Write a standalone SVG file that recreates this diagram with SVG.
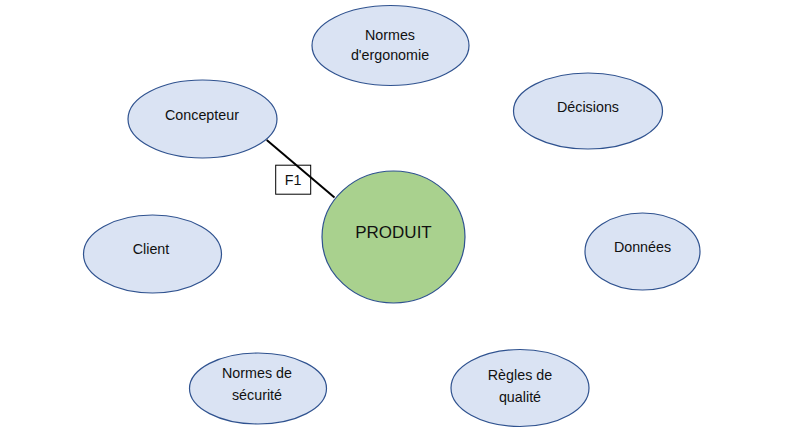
<svg xmlns="http://www.w3.org/2000/svg" width="789" height="436" viewBox="0 0 789 436">
<style>
.n{fill:#DAE3F3;stroke:#2F528F;stroke-width:1.2}
.p{fill:#A9D18E;stroke:#2F528F;stroke-width:1.2}
text{font-family:"Liberation Sans",Arial,sans-serif;font-size:14.3px;fill:#111;text-anchor:middle}
.big{font-size:17px}
</style>
<rect width="789" height="436" fill="#fff"/>
<g id="normes-ergonomie"><ellipse class="n" cx="390.5" cy="45.5" rx="78.5" ry="40"/><text x="390" y="39.5">Normes</text><text x="390" y="60">d'ergonomie</text></g>
<g id="decisions"><ellipse class="n" cx="588" cy="111" rx="74.5" ry="38"/><text x="588" y="111.5">Décisions</text></g>
<g id="concepteur"><ellipse class="n" cx="202.5" cy="119" rx="74.5" ry="39"/><text x="202" y="119.5">Concepteur</text></g>
<g id="client"><ellipse class="n" cx="152.5" cy="254" rx="69" ry="39"/><text x="151" y="254">Client</text></g>
<g id="produit"><ellipse class="p" cx="393.5" cy="237" rx="71.5" ry="66"/><text class="big" x="393.5" y="238">PRODUIT</text></g>
<g id="donnees"><ellipse class="n" cx="642.5" cy="251.5" rx="57.5" ry="38.5"/><text x="642.5" y="251.5">Données</text></g>
<g id="normes-securite"><ellipse class="n" cx="258" cy="388.5" rx="68.5" ry="35.5"/><text x="257" y="378.3">Normes de</text><text x="257" y="400">sécurité</text></g>
<g id="regles-qualite"><ellipse class="n" cx="520" cy="388" rx="69" ry="38.5"/><text x="520" y="380">Règles de</text><text x="520" y="401.7">qualité</text></g>
<g id="connectors">
<g id="f1-label"><rect x="275.7" y="165.2" width="35" height="29" fill="#fff" stroke="#000" stroke-width="1"/><text x="293" y="185">F1</text></g>
<line x1="266.7" y1="140" x2="334.5" y2="197.5" stroke="#000" stroke-width="2"/>
</g>
</svg>
